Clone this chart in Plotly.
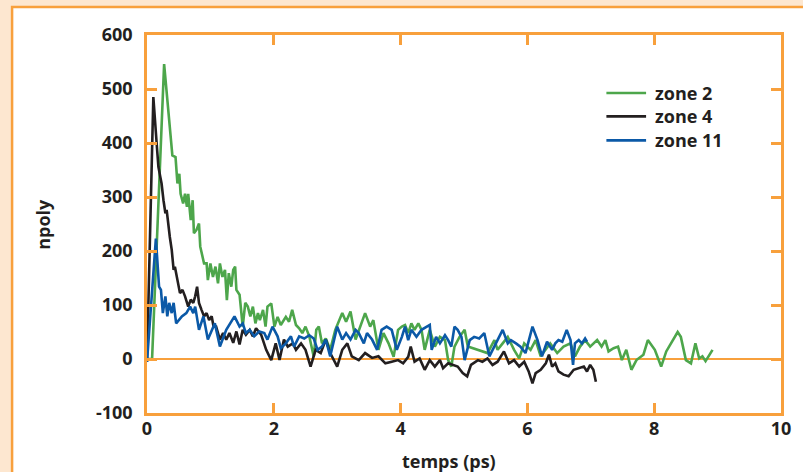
import plotly.graph_objects as go

# ---- data ----
zone2_t = [0.00, 0.08, 0.27, 0.40, 0.45, 0.48, 0.51, 0.53, 0.57, 0.60, 0.63, 0.65, 0.69, 0.72, 0.74,
           0.78, 0.82, 0.84, 0.90, 0.94, 0.96, 1.00, 1.04, 1.08, 1.12, 1.15, 1.19, 1.23, 1.26, 1.29,
           1.33, 1.36, 1.39, 1.41, 1.46, 1.51, 1.55, 1.59, 1.63, 1.67, 1.71, 1.75, 1.78, 1.83, 1.87,
           1.90, 1.96, 2.01, 2.06, 2.11, 2.19, 2.24, 2.29, 2.35, 2.40, 2.45, 2.50, 2.56, 2.63, 2.67,
           2.71, 2.76, 2.82, 2.89, 2.97, 3.03, 3.08, 3.14, 3.21, 3.29, 3.36, 3.44, 3.52, 3.57, 3.65,
           3.73, 3.81, 3.89, 3.96, 4.02, 4.07, 4.12, 4.17, 4.22, 4.28, 4.33, 4.38, 4.46, 4.54, 4.62,
           4.70, 4.75, 4.80, 4.85, 4.93, 5.01, 5.06, 5.37, 5.48, 5.53, 5.61, 5.69, 5.79, 5.87, 5.95,
           6.05, 6.13, 6.21, 6.36, 6.47, 6.57, 6.68, 6.75, 6.83, 6.91, 6.99, 7.10, 7.17, 7.23, 7.28,
           7.36, 7.43, 7.49, 7.56, 7.64, 7.72, 7.83, 7.90, 8.01, 8.11, 8.19, 8.29, 8.37, 8.42, 8.50,
           8.58, 8.65, 8.71, 8.76, 8.81, 8.86, 8.92]
zone2_v = [0, 0, 546, 377, 374, 325, 343, 306, 288, 306, 282, 306, 257, 294, 233,
           239, 251, 208, 177, 177, 146, 177, 152, 171, 140, 177, 152, 165, 109, 159,
           134, 165, 171, 128, 119, 60, 104, 97, 79, 97, 66, 85, 72, 91, 60,
           97, 103, 60, 78, 63, 78, 69, 91, 63, 57, 48, 60, 42, 4, 54,
           60, 29, 38, 17, 54, 72, 85, 69, 88, 36, 60, 85, 60, 72, 17,
           48, 29, 4, 54, 60, 63, 48, 66, 54, 66, 54, 17, 54, 23, 41,
           35, -2, -14, 23, 41, 54, 23, 11, 35, 17, 29, 41, 17, 1, 29,
           17, 35, 5, 29, 11, 23, 29, 5, 23, 35, 23, 35, 23, 35, 14,
           20, 23, -2, 17, -20, -2, 8, 35, 17, -14, 14, 35, 50, 41, -2,
           -8, 29, 1, 5, -4, 5, 17]

zone4_t = [0.00, 0.10, 0.16, 0.18, 0.21, 0.23, 0.26, 0.29, 0.31, 0.34, 0.36, 0.39, 0.42, 0.44, 0.47,
           0.49, 0.52, 0.56, 0.60, 0.65, 0.69, 0.73, 0.76, 0.79, 0.82, 0.86, 0.90, 0.94, 0.98, 1.02,
           1.05, 1.09, 1.15, 1.20, 1.25, 1.30, 1.36, 1.41, 1.46, 1.51, 1.56, 1.62, 1.67, 1.72, 1.80,
           1.88, 1.96, 2.03, 2.09, 2.16, 2.22, 2.30, 2.35, 2.43, 2.50, 2.58, 2.66, 2.74, 2.82, 2.89,
           3.00, 3.08, 3.16, 3.23, 3.34, 3.44, 3.55, 3.65, 3.76, 3.86, 3.96, 4.04, 4.12, 4.16, 4.22,
           4.30, 4.38, 4.46, 4.54, 4.62, 4.67, 4.75, 4.83, 4.90, 4.98, 5.05, 5.11, 5.22, 5.29, 5.37,
           5.45, 5.53, 5.63, 5.71, 5.79, 5.87, 5.95, 6.02, 6.08, 6.13, 6.21, 6.29, 6.34, 6.39, 6.44,
           6.49, 6.57, 6.65, 6.73, 6.81, 6.89, 6.94, 6.99, 7.04, 7.08]
zone4_v = [-5, 485, 387, 356, 337, 325, 294, 270, 276, 239, 226, 202, 165, 171, 153,
           146, 122, 128, 116, 97, 110, 104, 116, 134, 104, 91, 79, 85, 72, 79,
           60, 60, 36, 48, 36, 48, 30, 51, 27, 54, 45, 54, 42, 57, 45,
           17, -2, 29, -2, 36, 23, 29, 17, 29, 17, -14, 17, 11, 36, 11,
           -14, 17, 29, 5, -2, 11, 2, 5, -8, -5, -2, -8, 4, 23, -5,
           1, -20, -2, -14, -2, -17, -8, -11, -14, -26, -32, -11, -2, -5, 1,
           -11, -5, 14, -8, -2, -14, -5, -23, -45, -26, -20, -8, 8, -14, -8,
           -23, -29, -32, -20, -17, -14, -23, -11, -20, -42]

zone11_t = [0.00, 0.14, 0.19, 0.22, 0.25, 0.29, 0.32, 0.35, 0.39, 0.42, 0.46, 0.50, 0.55, 0.62, 0.68,
            0.73, 0.76, 0.82, 0.89, 0.96, 1.02, 1.07, 1.15, 1.25, 1.38, 1.46, 1.51, 1.56, 1.62, 1.69,
            1.77, 1.85, 1.90, 1.98, 2.06, 2.11, 2.19, 2.27, 2.32, 2.40, 2.48, 2.56, 2.63, 2.69, 2.76,
            2.82, 2.89, 3.00, 3.08, 3.14, 3.21, 3.29, 3.34, 3.42, 3.47, 3.55, 3.63, 3.70, 3.78, 3.86,
            3.94, 4.02, 4.07, 4.12, 4.17, 4.25, 4.33, 4.38, 4.46, 4.49, 4.56, 4.62, 4.70, 4.75, 4.80,
            4.85, 4.90, 4.96, 5.01, 5.09, 5.16, 5.24, 5.32, 5.40, 5.50, 5.61, 5.69, 5.74, 5.82, 5.89,
            5.97, 6.08, 6.16, 6.23, 6.31, 6.39, 6.44, 6.49, 6.55, 6.62, 6.68, 6.72, 6.75, 6.81, 6.86,
            6.91, 6.94]
zone11_v = [-5, 223, 134, 128, 85, 116, 79, 104, 85, 104, 66, 72, 79, 85, 97,
            85, 97, 54, 79, 36, 54, 66, 23, 54, 79, 60, 66, 48, 54, 42,
            51, 48, 36, 60, 42, 20, 29, 42, 23, 42, 38, 44, 38, 17, 23,
            36, 5, 60, 36, 48, 36, 54, 48, 29, 48, 36, 17, 54, 60, 54,
            17, 41, 60, 35, 54, 41, 54, 57, 63, 17, 41, 29, 44, 35, 23,
            60, 54, 41, -2, 35, 41, 38, 48, 5, 29, 54, 29, 35, 29, 23,
            11, 60, 35, 5, 32, 17, 29, 35, 32, 54, 35, -11, 29, 35, 29,
            38, 32]

series_names = ["zone 2", "zone 4", "zone 11"]
series_colors = ["#4DA64B", "#231F20", "#0B59A7"]

x_ticks = [0, 2, 4, 6, 8, 10]
y_ticks = [-100, 0, 100, 200, 300, 400, 500, 600]

ORANGE = "#F8A03C"
CREAM = "#FDE7D0"
TEXT = "#231F20"
FONT = "Open Sans"

fig = go.Figure()
for name, t, v, c in zip(series_names, [zone2_t, zone4_t, zone11_t],
                         [zone2_v, zone4_v, zone11_v], series_colors):
    fig.add_trace(go.Scatter(x=t, y=v, mode="lines", name=name, showlegend=False,
                             line=dict(color=c, width=2.6)))

axis_common = dict(
    showline=True, linecolor=ORANGE, linewidth=2.5, mirror="ticks",
    ticks="inside", ticklen=10, tickwidth=2.5, tickcolor=ORANGE,
    showgrid=False,
    tickfont=dict(family=FONT, size=18, color=TEXT, weight="bold"),
)

fig.update_xaxes(range=[0, 10], tickvals=x_ticks, ticktext=[str(v) for v in x_ticks],
                 zeroline=False, ticklabelstandoff=-2, **axis_common)
fig.update_yaxes(range=[-100, 600], tickvals=y_ticks, ticktext=[str(v) for v in y_ticks],
                 zeroline=True, zerolinecolor=ORANGE, zerolinewidth=1.6,
                 ticklabelstandoff=8, **axis_common)

# legend drawn as line samples + text labels (to reproduce its tight row spacing)
legend_rows_y = [0.8466, 0.7847, 0.7212]
shapes = [dict(type="rect", xref="paper", yref="paper", layer="below",
               x0=-0.2128, x1=1.2, y0=-0.4, y1=1.0741,
               line=dict(color=ORANGE, width=2.5), fillcolor="white")]
annotations = [
    dict(text="npoly", xref="paper", yref="paper", x=-0.164, y=0.498,
         textangle=-90, showarrow=False, xanchor="center", yanchor="middle",
         font=dict(family=FONT, size=18, color=TEXT, weight="bold")),
    dict(text="temps (ps)", xref="paper", yref="paper", x=0.4757, y=-0.126,
         showarrow=False, xanchor="center", yanchor="middle",
         font=dict(family=FONT, size=18, color=TEXT, weight="bold")),
]
for name, c, yy in zip(series_names, series_colors, legend_rows_y):
    shapes.append(dict(type="line", xref="paper", yref="paper", x0=0.7246, x1=0.7872,
                       y0=yy, y1=yy, line=dict(color=c, width=2.6)))
    annotations.append(dict(text=name, xref="paper", yref="paper", x=0.798, y=yy,
                            showarrow=False, xanchor="left", yanchor="middle",
                            font=dict(family=FONT, size=18, color=TEXT, weight="bold")))

fig.update_layout(
    width=803, height=472,
    margin=dict(l=147, r=17, t=35, b=59),
    paper_bgcolor=CREAM, plot_bgcolor="white",
    showlegend=False,
    shapes=shapes,
    annotations=annotations,
)

fig.write_html("out.html", config={"displayModeBar": False},
               post_script="document.body.style.margin='0';document.body.style.overflow='hidden';")
